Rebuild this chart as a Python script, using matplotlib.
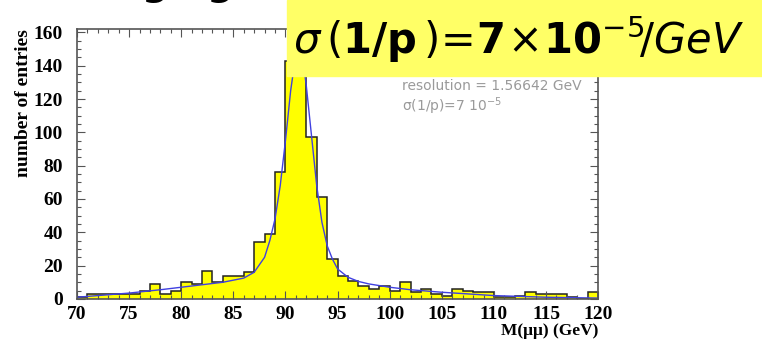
import numpy as np
import matplotlib
matplotlib.use("Agg")
import matplotlib.pyplot as plt

# histogram: 1 GeV bins from 70 to 120
bin_lo = 70
bin_hi = 120
counts = [1, 3, 3, 3, 3, 3, 5, 9, 3, 5,
          10, 9, 17, 10, 14, 14, 16, 34, 39, 76,
          143, 141, 97, 61, 24, 14, 11, 8, 6, 8,
          5, 10, 4, 6, 3, 2, 6, 5, 4, 4,
          1, 1, 2, 4, 3, 3, 3, 1, 0, 4]

# fitted curve
fit_x = [70, 72, 75, 78, 80, 82, 84, 86, 87, 88, 88.5, 89, 89.5, 90, 90.5,
         91, 91.3, 91.6, 92, 92.5, 93, 93.5, 94, 94.5, 95, 96, 97, 98, 100,
         102, 105, 110, 115, 120]
fit_y = [1, 2, 3.5, 5.5, 7, 8.5, 10, 12.5, 16, 25, 35, 48, 68, 95, 125,
         147, 152, 147, 128, 98, 68, 46, 32, 24, 18, 13, 10.5, 9, 7,
         5.5, 4, 2, 1, 0.5]

resolution_txt = "resolution = 1.56642 GeV"
sigma_txt = r"σ(1/p)=7 10$^{-5}$"
box_txt = r"$\sigma\,(\mathbf{1/p}\,)\!=\!\mathbf{7}\!\times\!\mathbf{10}^{-5}\!/\mathit{GeV}$"

plt.rcParams['mathtext.fontset'] = 'custom'
plt.rcParams['mathtext.rm'] = 'DejaVu Sans'
plt.rcParams['mathtext.it'] = 'DejaVu Sans:italic'
plt.rcParams['mathtext.bf'] = 'DejaVu Sans:bold'

fig = plt.figure(figsize=(7.62, 3.42), dpi=100)
ax = fig.add_axes([0.101, 0.126, 0.684, 0.789])

edges = np.arange(bin_lo, bin_hi + 1, 1)
ax.stairs(counts, edges, fill=True, color='#ffff00')
ax.stairs(counts, edges, color='#222222', lw=1.1)
ax.plot(fit_x, fit_y, color='#4040e0', lw=1.0)

ax.set_xlim(70, 120)
ax.set_ylim(0, 162)
ax.set_xticks(np.arange(70, 121, 5))
ax.set_xticks(np.arange(70, 121, 1), minor=True)
ax.set_yticks(np.arange(0, 161, 20))
ax.set_yticks(np.arange(0, 161, 5), minor=True)
ax.tick_params(which='both', direction='in', top=True, right=True, colors='#555555',
               labelcolor='black', width=0.8)
ax.tick_params(which='major', length=6)
ax.tick_params(which='minor', length=3)
ax.tick_params(axis='y', pad=10)
ax.tick_params(axis='x', pad=5)
for lab in ax.get_xticklabels() + ax.get_yticklabels():
    lab.set_family('Liberation Serif')
    lab.set_weight('bold')
    lab.set_fontsize(14)
for s in ax.spines.values():
    s.set_color('#555555')
    s.set_linewidth(1.2)

ax.set_ylabel("number of entries", family='Liberation Serif', weight='bold',
              fontsize=14, loc='top', labelpad=1)
ax.set_xlabel("M(μμ) (GeV)", family='Liberation Serif', weight='bold',
              fontsize=12.5, loc='right', labelpad=0)

ax.text(0.623, 0.775, resolution_txt, transform=ax.transAxes, color='#9a9a9a',
        fontsize=10)
ax.text(0.623, 0.695, sigma_txt, transform=ax.transAxes, color='#9a9a9a',
        fontsize=10)

# slide title remnant (cropped at the top) and yellow label box
fig.text(0.185, 1.015, "ging", fontsize=27, weight='bold', va='baseline')
fig.patches.append(plt.Rectangle((287 / 762, 1 - 76 / 342), 1, 76 / 342,
                                 transform=fig.transFigure, color='#ffff66',
                                 zorder=5))
fig.text(293 / 762, 1 - 40 / 342, box_txt, fontsize=30, va='center', zorder=6)

fig.savefig("out.png", dpi=100)
